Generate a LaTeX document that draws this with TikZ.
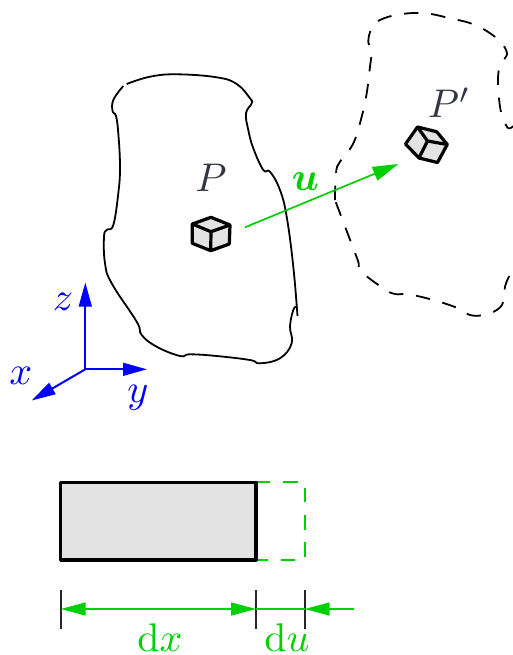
\documentclass[tikz,border=0pt]{standalone}
\usepackage{amsmath}
\usepackage{amssymb}
\usepackage{xcolor}
\usepackage{tikz}
\usetikzlibrary{arrows.meta}
\definecolor{dispgreen}{RGB}{0, 208, 0}
\definecolor{axisblue}{RGB}{0, 0, 255}
\definecolor{labelgray}{RGB}{50, 55, 65}
\definecolor{cubegray}{RGB}{227, 227, 227}
\tikzset{
  bodyline/.style={black, line width=0.45pt, line join=round},
  bodydash/.style={bodyline, dash pattern=on 3.6pt off 3.2pt},
  cubeline/.style={black, line width=0.8pt, line join=round, fill=cubegray},
  axisline/.style={axisblue, line width=0.5pt, -{Triangle[length=6pt,width=3.2pt]}},
  displine/.style={dispgreen, line width=0.42pt},
  disparrow/.style={displine, -{Triangle[length=6.2pt,width=3.2pt]}},
  dimtick/.style={black!85, line width=0.45pt},
  axislabel/.style={text=axisblue, inner sep=0pt},
  displabel/.style={text=dispgreen, inner sep=0pt},
  pointlabel/.style={text=labelgray, inner sep=0pt}
}
\begin{document}
\begin{tikzpicture}[x=0.25pt, y=-0.25pt]
  \useasboundingbox (0,0) rectangle (513,655);
  % undeformed body
  \draw[bodyline] plot[smooth, tension=0.7] coordinates {(126.7,84) (150,76.7) (176.7,74.3) (216.7,77.3) (236.7,84) (250,98.3) (251.7,103.3) (246,113.3) (248.3,130) (253.3,148.3) (263.3,170) (270,171.7) (280,190) (286.7,216.7) (293.3,266.7) (297.5,316)};
  \draw[bodyline] plot[smooth, tension=0.7] coordinates {(296.7,306.5) (293.3,310) (290,326.7) (291.7,343.3) (280,358.3) (260,363.3) (250,360) (216.7,356) (190,354.3) (180,356) (156.7,346.7) (141.7,335) (136.7,321.7) (111.7,283.3) (105,263.3) (104,236.7) (106.7,230) (113.3,225) (118.3,193.3) (120,166.7) (118.3,133.3) (116,116) (112.7,111.7) (113.3,100) (123.3,86)};
  % deformed body
  \draw[bodydash] plot[smooth, tension=0.7] coordinates {(335,200) (336,173) (340,161.7) (353.3,143.3) (361.7,116.7) (366.7,93.3) (370,66.7) (371.7,50) (368.3,41.7) (371.7,28.3) (380,20) (400,14.3) (425,13.3) (450,18.3) (475,25) (496.7,38.3) (506.7,51.7) (504,60) (498.3,73.3) (500,106.7) (506,125) (510,128.3) (513,126)};
  \draw[bodydash] plot[smooth, tension=0.7] coordinates {(509.3,276) (505,286.7) (503.3,301.7) (496.7,310) (483.3,315) (470,315) (458.3,308.3) (433.3,300) (408.3,294.3) (395,294) (383.3,288.3) (361.7,271.7) (358.3,261.7) (353.3,248.3) (340,213.3) (335,200)};
  % cubes
  \filldraw[cubeline] (211,217.3) -- (230,225) -- (229.3,244) -- (210.7,250.7) -- (192.3,243.3) -- (192.3,224) -- cycle;
  \draw[cubeline, fill=none] (192.3,224) -- (211,231.7) -- (230,225) (211,231.7) -- (210.7,250.7);
  \filldraw[cubeline] (417.5,127) -- (436.7,131.7) -- (447.3,144.5) -- (437.5,162.5) -- (419,158) -- (405.5,144) -- cycle;
  \draw[cubeline, fill=none] (417.5,127) -- (427.5,141) -- (447.3,144.5) (427.5,141) -- (419,158);
  \node[pointlabel] (P) at (211,177.5) {$P$};
  \node[pointlabel] (Pd) at (449,102.5) {$P'$};
  % displacement
  \coordinate (ustart) at (245,227.3);
  \coordinate (uend) at (398.3,164);
  \draw[displine, -{Triangle[length=6.4pt,width=3.6pt]}] (ustart) -- (uend);
  \node[displabel] (ulabel) at (305.5,182) {$\boldsymbol{u}$};
  % axes
  \coordinate (origin) at (85.3,369.3);
  \coordinate (xtip) at (31.7,400.5);
  \coordinate (ytip) at (147,369.3);
  \coordinate (ztip) at (85.3,282.5);
  \draw[axisline] (origin) -- (xtip);
  \draw[axisline] (origin) -- (ytip);
  \draw[axisline] (origin) -- (ztip);
  \node[axislabel] (xlabel) at (20.7,376) {$x$};
  \node[axislabel] (ylabel) at (138,398) {$y$};
  \node[axislabel] (zlabel) at (63,301.5) {$z$};
  % strip
  \draw[displine, dash pattern=on 3.6pt off 3.2pt] (256,482.3) -- (304.7,482.3) -- (304.7,560) -- (256,560);
  \filldraw[cubeline] (60.7,482.3) rectangle (256,560);
  % dimensions
  \coordinate (tickA) at (60.7,609);
  \coordinate (tickB) at (256,609);
  \coordinate (tickC) at (304.7,609);
  \coordinate (freeend) at (353.5,609);
  \draw[dimtick] (60.7,590) -- (60.7,628.5);
  \draw[dimtick] (256,590) -- (256,628.5);
  \draw[dimtick] (304.7,590) -- (304.7,628.5);
  \draw[displine, {Triangle[length=6.2pt,width=3.2pt]}-{Triangle[length=6.2pt,width=3.2pt]}] (tickA) -- (tickB);
  \draw[displine] (tickB) -- (tickC);
  \draw[disparrow] (freeend) -- (tickC);
  \node[displabel] (dxlabel) at (160,638) {$\mathrm{d}x$};
  \node[displabel] (dulabel) at (287,638) {$\mathrm{d}u$};
\end{tikzpicture}
\end{document}
